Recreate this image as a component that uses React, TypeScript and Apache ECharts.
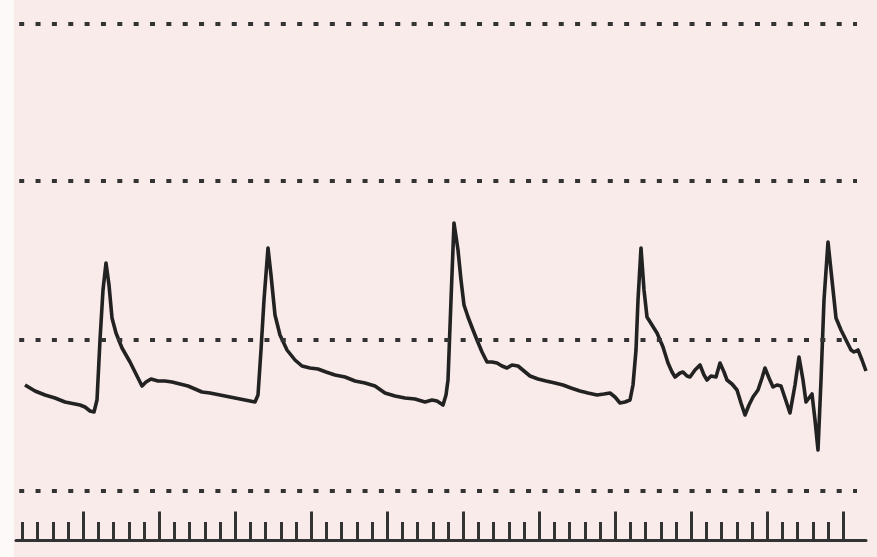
import React, { useEffect, useRef } from "react";
import * as echarts from "echarts";

// sample position (horizontal units) and signal amplitude
const sampleTimes = [
  9, 19, 29, 39, 49, 59, 64, 69, 74, 78, 81, 84, 87, 90, 93, 96, 100, 106, 114, 121,
  126, 130, 135, 142, 149, 156, 164, 172, 179, 186, 194, 204, 214, 224, 234, 239, 242, 245, 248, 252,
  255, 259, 264, 271, 279, 286, 294, 302, 310, 319, 329, 339, 349, 359, 369, 379, 389, 399, 409, 416,
  421, 427, 430, 432, 435, 438, 442, 445, 448, 452, 457, 461, 466, 471, 476, 481, 486, 491, 496, 502,
  508, 514, 522, 530, 539, 547, 555, 564, 572, 581, 588, 594, 599, 604, 609, 614, 617, 620, 622, 625,
  628, 631, 636, 641, 647, 652, 656, 659, 664, 667, 671, 674, 679, 684, 688, 691, 695, 700, 704, 708,
  711, 716, 721, 725, 729, 733, 737, 742, 746, 749, 753, 757, 761, 765, 769, 774, 779, 783, 787, 790,
  793, 796, 799, 802, 805, 808, 812, 816, 820, 825, 830, 835, 838, 842, 846, 850,
];
const signalValues = [
  1.55, 1.49, 1.45, 1.42, 1.38, 1.36, 1.35, 1.33, 1.29, 1.28, 1.4, 2.0, 2.5, 2.77, 2.55, 2.22, 2.07, 1.92, 1.78, 1.64,
  1.54, 1.58, 1.61, 1.59, 1.59, 1.58, 1.56, 1.54, 1.51, 1.48, 1.47, 1.45, 1.43, 1.41, 1.39, 1.38, 1.45, 1.9, 2.4, 2.92,
  2.65, 2.25, 2.05, 1.9, 1.8, 1.74, 1.72, 1.71, 1.68, 1.65, 1.63, 1.59, 1.57, 1.54, 1.47, 1.44, 1.42, 1.41, 1.38, 1.4,
  1.39, 1.35, 1.45, 1.6, 2.4, 3.17, 2.9, 2.6, 2.35, 2.23, 2.1, 2.0, 1.88, 1.78, 1.78, 1.77, 1.74, 1.72, 1.75, 1.74,
  1.69, 1.64, 1.61, 1.59, 1.57, 1.55, 1.52, 1.49, 1.47, 1.45, 1.46, 1.47, 1.43, 1.37, 1.38, 1.4, 1.55, 1.9, 2.4, 2.92,
  2.5, 2.23, 2.15, 2.07, 1.93, 1.77, 1.68, 1.63, 1.67, 1.68, 1.64, 1.63, 1.7, 1.75, 1.65, 1.6, 1.64, 1.63, 1.77, 1.68,
  1.6, 1.56, 1.5, 1.37, 1.25, 1.35, 1.43, 1.5, 1.62, 1.72, 1.62, 1.53, 1.55, 1.54, 1.42, 1.27, 1.55, 1.83, 1.6, 1.38,
  1.42, 1.46, 1.2, 0.9, 1.6, 2.4, 2.98, 2.6, 2.22, 2.1, 2.0, 1.9, 1.88, 1.9, 1.8, 1.69,
];
// dotted reference levels
const referenceLevels = [5.16, 3.59, 2.0, 0.49];
// scale ticks along the bottom: 55 ticks, every fifth is long
const scaleTicks = Array.from({ length: 55 }, (_, i) => String(i + 1));

export default function App() {
  const ref = useRef<HTMLDivElement>(null);
  useEffect(() => {
    if (!ref.current) return;
    const chart = echarts.init(ref.current, null, { renderer: "svg" });
    const lineData = sampleTimes.map((t, i) => [t, signalValues[i]]);
    const dotStyle = {
      color: "#333",
      width: 4.2,
      type: [5, 11.35] as any,
      cap: "butt" as const,
    };
    chart.setOption({
      animation: false,
      backgroundColor: "#f9ebea",
      graphic: [
        {
          type: "rect",
          shape: { x: 0, y: 0, width: 14, height: 557 },
          style: { fill: "#fdf9f9" },
          silent: true,
        },
      ],
      grid: [
        { left: 16, top: 0, width: 850, height: 540, containLabel: false },
        { left: 22.5, top: 400, width: 820.8, height: 140, containLabel: false },
      ],
      xAxis: [
        {
          type: "value",
          gridIndex: 0,
          min: 0,
          max: 850,
          position: "bottom",
          axisLine: { show: true, onZero: false, lineStyle: { color: "#333", width: 3 } },
          axisTick: { show: false },
          axisLabel: { show: false },
          splitLine: { show: false },
        },
        {
          type: "category",
          gridIndex: 1,
          data: scaleTicks,
          boundaryGap: false,
          position: "bottom",
          axisLine: { show: false },
          axisLabel: { show: false },
          splitLine: { show: false },
          axisTick: {
            show: true,
            inside: true,
            length: 28.5,
            interval: (i: number) => i % 5 === 4,
            lineStyle: { color: "#333", width: 3 },
          },
        },
        {
          type: "category",
          gridIndex: 1,
          data: scaleTicks,
          boundaryGap: false,
          position: "bottom",
          axisLine: { show: false },
          axisLabel: { show: false },
          splitLine: { show: false },
          axisTick: {
            show: true,
            inside: true,
            length: 18,
            interval: (i: number) => i % 5 !== 4,
            lineStyle: { color: "#333", width: 3 },
          },
        },
      ],
      yAxis: [
        { type: "value", gridIndex: 0, min: 0, max: 5.4, show: false },
        { type: "value", gridIndex: 1, min: 0, max: 1, show: false },
      ],
      series: [
        {
          type: "line",
          xAxisIndex: 0,
          yAxisIndex: 0,
          data: lineData,
          showSymbol: false,
          symbol: "none",
          silent: true,
          lineStyle: { color: "#222", width: 3.6, join: "round" },
          markLine: {
            silent: true,
            symbol: "none",
            label: { show: false },
            lineStyle: dotStyle,
            emphasis: { disabled: true },
            data: referenceLevels.map((v) => [
              { coord: [3.2, v] },
              { coord: [841, v] },
            ]),
          },
          z: 3,
        },
      ],
    });
    return () => chart.dispose();
  }, []);
  return (
    <div
      ref={ref}
      style={{ position: "fixed", left: 0, top: 0, width: 877, height: 557 }}
    />
  );
}
